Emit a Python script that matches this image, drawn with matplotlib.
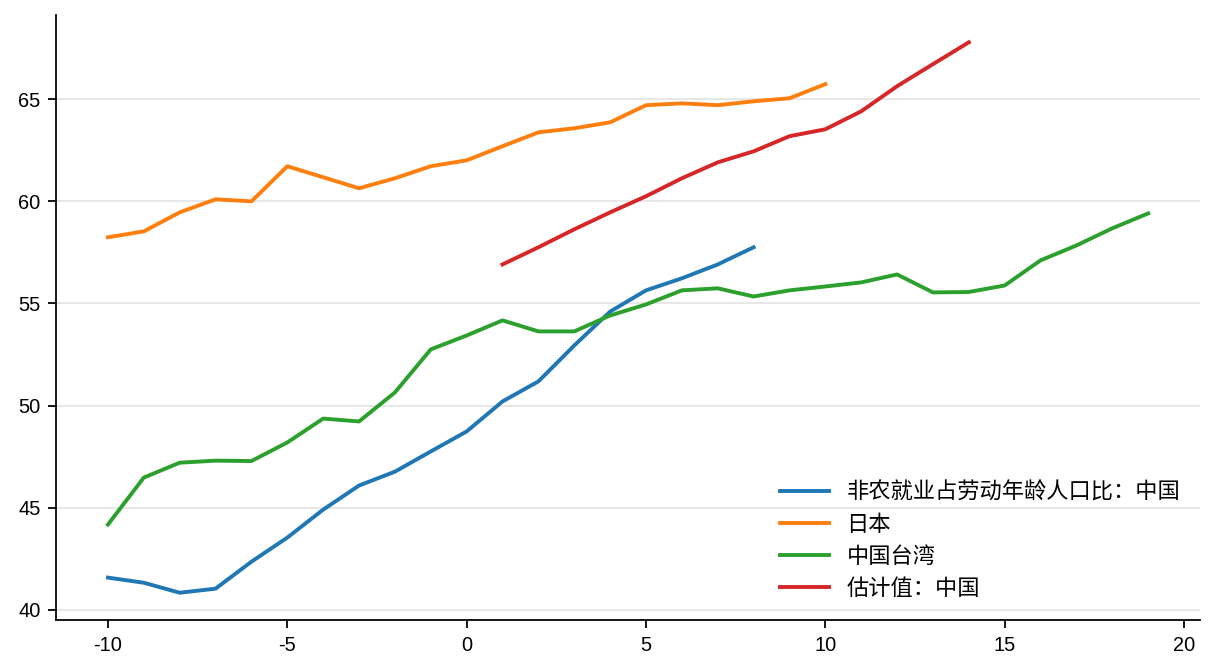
import numpy as np
import matplotlib
matplotlib.use('Agg')
import matplotlib.pyplot as plt

plt.rcParams['font.family'] = ['Liberation Sans', 'Noto Sans CJK SC', 'DejaVu Sans']
plt.rcParams['axes.unicode_minus'] = False

# Dados
anos_china = list(range(-10, 9))
china = [41.57, 41.32, 40.83, 41.03, 42.35, 43.53, 44.90, 46.08, 46.76, 47.75,
         48.73, 50.20, 51.18, 52.94, 54.60, 55.64, 56.23, 56.91, 57.75]

anos_japao = list(range(-10, 11))
japao = [58.24, 58.53, 59.46, 60.10, 60.00, 61.72, 61.18, 60.64, 61.13, 61.72,
         62.01, 62.70, 63.38, 63.58, 63.87, 64.71, 64.80, 64.71, 64.90, 65.05, 65.74]

anos_taiwan = list(range(-10, 20))
taiwan = [44.17, 46.47, 47.20, 47.30, 47.28, 48.19, 49.36, 49.22, 50.64, 52.75,
          53.43, 54.17, 53.63, 53.63, 54.41, 54.95, 55.64, 55.74, 55.34, 55.64,
          55.83, 56.03, 56.42, 55.54, 55.56, 55.88, 57.11, 57.84, 58.68, 59.41]

anos_estimativa = list(range(1, 15))
estimativa = [56.91, 57.75, 58.63, 59.46, 60.25, 61.13, 61.91, 62.45, 63.19, 63.53,
              64.41, 65.64, 66.72, 67.79]

nomes = ['非农就业占劳动年龄人口比：中国', '日本', '中国台湾', '估计值：中国']
cores = ['#1f77b4', '#ff7f0e', '#2ca02c', '#d62728']


def main():
    fig, ax = plt.subplots(figsize=(7.6, 4.2), dpi=160)
    fig.subplots_adjust(left=0.046, right=0.987, top=0.978, bottom=0.077)

    series = [(anos_china, china), (anos_japao, japao),
              (anos_taiwan, taiwan), (anos_estimativa, estimativa)]
    for (x, y), nome, cor in zip(series, nomes, cores):
        ax.plot(x, y, color=cor, lw=1.75, label=nome)

    ax.set_xticks([-10, -5, 0, 5, 10, 15, 20])
    ax.set_yticks([40, 45, 50, 55, 60, 65])
    ax.tick_params(labelsize=9)
    ax.yaxis.grid(True, color='#e5e5e5', lw=0.8)
    ax.set_axisbelow(True)
    ax.spines['top'].set_visible(False)
    ax.spines['right'].set_visible(False)

    ax.legend(loc='lower right', frameon=False, handlelength=2.2,
              prop={'family': ['Liberation Sans', 'Noto Sans CJK SC'], 'size': 10})

    fig.savefig('out.png', dpi=160)


if __name__ == "__main__":
    main()
